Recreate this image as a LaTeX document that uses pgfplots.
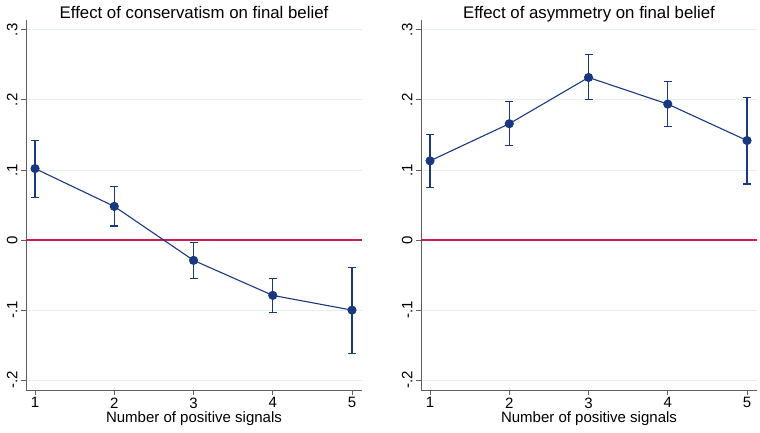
\documentclass[border=0pt]{standalone}
\usepackage{fontspec}
\setmainfont{Liberation Sans}
\usepackage{pgfplots}
\pgfplotsset{compat=1.18}
\definecolor{statanavy}{RGB}{26,56,128}
\definecolor{zerored}{RGB}{200,32,72}
\definecolor{gridc}{RGB}{228,239,242}
\definecolor{axc}{RGB}{95,95,95}
\pgfplotsset{
  panel/.style={
    scale only axis, width=336pt, height=370pt,
    xmin=0.886, xmax=5.126, ymin=-0.214, ymax=0.314,
    axis x line*=bottom, axis y line*=left,
    axis line style={axc, line width=1pt},
    xtick={1,2,3,4,5},
    ytick={-0.2,-0.1,0.1,0.2,0.3},
    yticklabels={-.2,-.1,.1,.2,.3},
    extra y ticks={0}, extra y tick labels={0},
    extra y tick style={grid style={draw=zerored, line width=1.3pt}},
    tick align=outside, tick pos=left,
    major tick length=5pt,
    tick style={axc, line width=0.9pt},
    ymajorgrids, grid style={draw=gridc, line width=0.8pt},
    /pgf/number format/assume math mode=true,
    ticklabel style={font=\fontsize{15}{17}\selectfont},
    yticklabel style={rotate=90, anchor=south},
    xticklabel style={yshift=1pt},
    xlabel={Number of positive signals},
    xlabel style={font=\fontsize{15}{17}\selectfont, yshift=3pt},
    title style={font=\fontsize{16.8}{19}\selectfont, at={(0.5,1)}, anchor=base, yshift=-5pt},
    clip=false,
  },
  est/.style={
    color=statanavy, line width=1.1pt, mark=*, mark size=4pt,
    error bars/.cd, y dir=both, y explicit,
    error bar style={color=statanavy, line width=1.1pt},
    error mark options={color=statanavy, line width=1.1pt, mark size=4pt, rotate=90},
  },
}
\begin{document}
\begin{tikzpicture}[x=1pt, y=1pt]
\useasboundingbox (0,0) rectangle (760,432);
\begin{axis}[panel, at={(26pt,42pt)}, anchor=south west,
  title={Effect of conservatism on final belief}]
\addplot[est] coordinates {
  (1, 0.102) += (0,0.040) -= (0,0.041)
  (2, 0.048) += (0,0.028) -= (0,0.028)
  (3,-0.029) += (0,0.026) -= (0,0.026)
  (4,-0.079) += (0,0.024) -= (0,0.025)
  (5,-0.100) += (0,0.061) -= (0,0.062)
};
\end{axis}
\begin{axis}[panel, at={(421pt,42pt)}, anchor=south west,
  title={Effect of asymmetry on final belief}]
\addplot[est] coordinates {
  (1, 0.113) += (0,0.038) -= (0,0.038)
  (2, 0.166) += (0,0.032) -= (0,0.031)
  (3, 0.232) += (0,0.033) -= (0,0.032)
  (4, 0.194) += (0,0.032) -= (0,0.032)
  (5, 0.142) += (0,0.062) -= (0,0.062)
};
\end{axis}
\end{tikzpicture}
\end{document}
